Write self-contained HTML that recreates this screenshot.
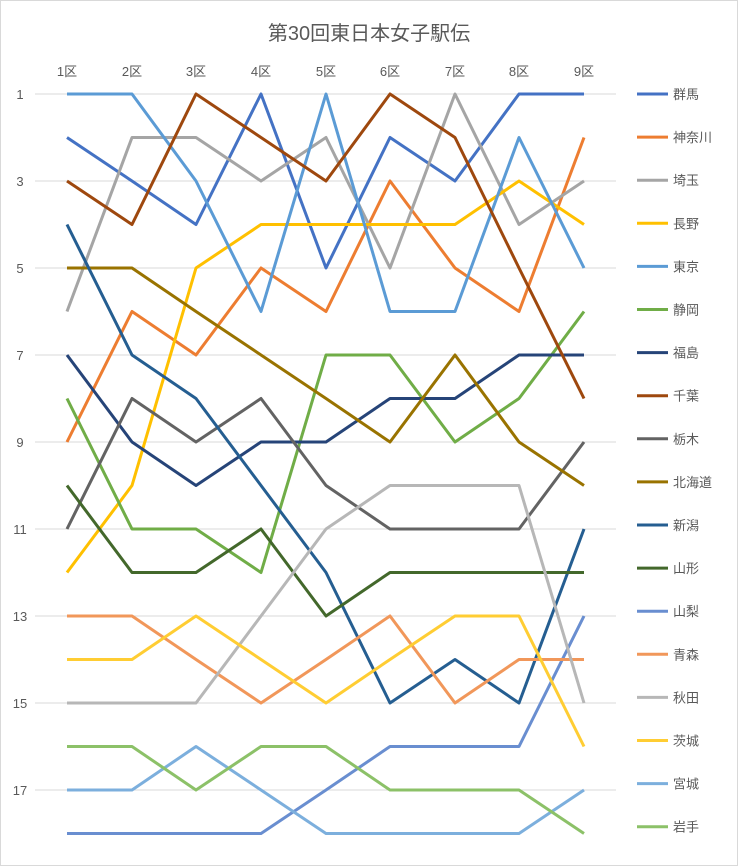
<!DOCTYPE html>
<html><head><meta charset="utf-8"><style>
body{margin:0;background:#fff}
svg{display:block;font-family:"Liberation Sans","Noto Sans CJK JP",sans-serif}
</style></head><body>
<svg width="738" height="866" xmlns="http://www.w3.org/2000/svg">
<rect x="0.5" y="0.5" width="737" height="865" fill="#fff" stroke="#D9D9D9"/>
<text x="369" y="40" text-anchor="middle" font-size="20" fill="#595959">第30回東日本女子駅伝</text>
<g id="grid" stroke="#D9D9D9" stroke-width="1"></g>
<g id="lab" font-size="13" fill="#595959"></g>
<g id="lines" fill="none" stroke-width="3" stroke-linejoin="round"></g>
<g id="leg" font-size="13" fill="#595959"></g>
<script>
var xs=[67,132,196,261,326,390,455,519,584];
function Y(r){return 94+(r-1)*43.5;}
var S=[
["群馬","#4472C4",[2,3,4,1,5,2,3,1,1]],
["神奈川","#ED7D31",[9,6,7,5,6,3,5,6,2]],
["埼玉","#A5A5A5",[6,2,2,3,2,5,1,4,3]],
["長野","#FFC000",[12,10,5,4,4,4,4,3,4]],
["東京","#5B9BD5",[1,1,3,6,1,6,6,2,5]],
["静岡","#70AD47",[8,11,11,12,7,7,9,8,6]],
["福島","#264478",[7,9,10,9,9,8,8,7,7]],
["千葉","#9E480E",[3,4,1,2,3,1,2,5,8]],
["栃木","#636363",[11,8,9,8,10,11,11,11,9]],
["北海道","#997300",[5,5,6,7,8,9,7,9,10]],
["新潟","#255E91",[4,7,8,10,12,15,14,15,11]],
["山形","#43682B",[10,12,12,11,13,12,12,12,12]],
["山梨","#698ED0",[18,18,18,18,17,16,16,16,13]],
["青森","#F1975A",[13,13,14,15,14,13,15,14,14]],
["秋田","#B7B7B7",[15,15,15,13,11,10,10,10,15]],
["茨城","#FFCD33",[14,14,13,14,15,14,13,13,16]],
["宮城","#7CAFDD",[17,17,16,17,18,18,18,18,17]],
["岩手","#8CC168",[16,16,17,16,16,17,17,17,18]]];
var NS="http://www.w3.org/2000/svg";
function el(t,a,p,tx){var e=document.createElementNS(NS,t);for(var k in a)e.setAttribute(k,a[k]);if(tx)e.textContent=tx;document.getElementById(p).appendChild(e);}
for(var r=1;r<=17;r+=2){el("line",{x1:35,x2:616,y1:Y(r),y2:Y(r)},"grid");el("text",{x:20,y:Y(r)+5,"text-anchor":"middle"},"lab",""+r);}
for(var i=0;i<9;i++)el("text",{x:xs[i],y:76,"text-anchor":"middle"},"lab",(i+1)+"区");
S.forEach(function(s,k){
 el("polyline",{points:s[2].map(function(v,i){return xs[i]+","+Y(v)}).join(" "),stroke:s[1]},"lines");
 var y=94+k*43.1;
 el("line",{x1:637,x2:668,y1:y,y2:y,stroke:s[1],"stroke-width":3},"leg");
 el("text",{x:673,y:y+5},"leg",s[0]);
});
</script>
</svg>
</body></html>
